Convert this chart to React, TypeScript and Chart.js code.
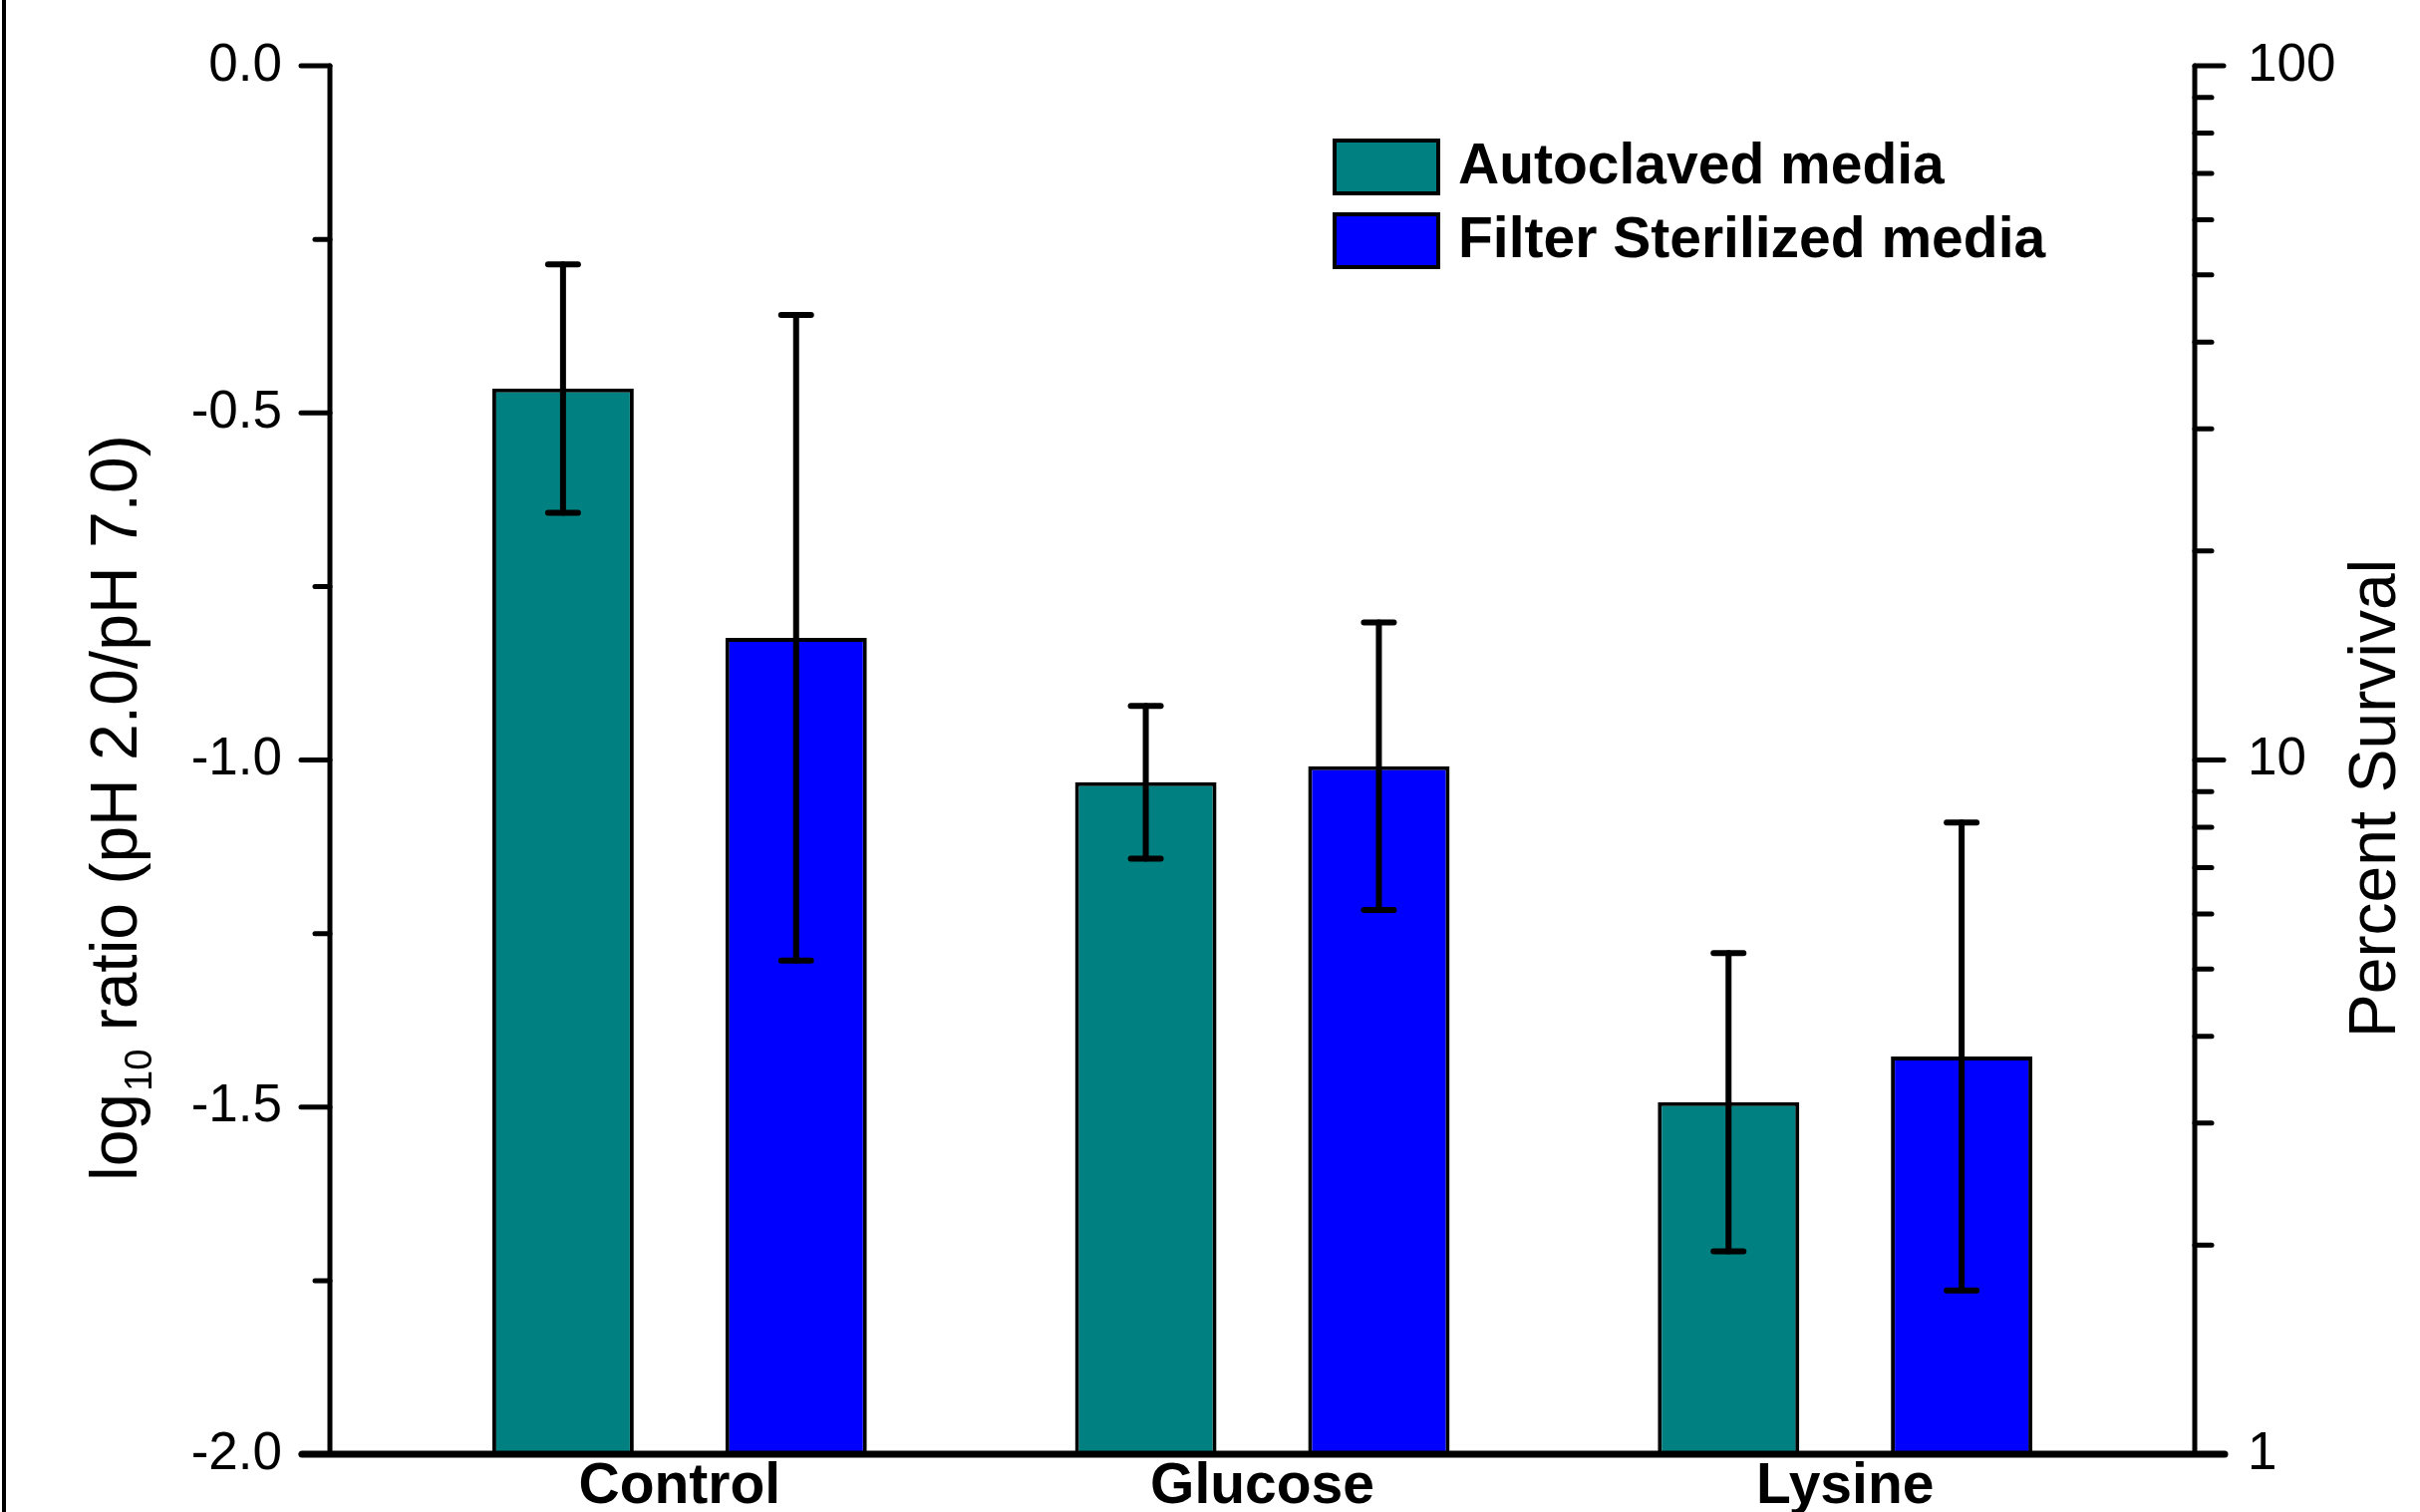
import React, { useEffect, useRef } from 'react';
import { Chart, registerables } from 'chart.js';

Chart.register(...registerables);

// ---- data ----
const CATEGORIES = ['Control', 'Glucose', 'Lysine'];
const CATEGORY_POS = [1, 2, 3];
const SERIES_NAMES = ['Autoclaved media', 'Filter Sterilized media'];
const AUTOCLAVED = [-0.465, -1.032, -1.493];
const AUTOCLAVED_ERR = [0.179, 0.11, 0.215];
const FILTERED = [-0.824, -1.009, -1.427];
const FILTERED_ERR = [0.465, 0.207, 0.337];
const SERIES_COLORS = ['#008080', '#0000FF'];
const LEFT_TICKS = [-2, -1.75, -1.5, -1.25, -1, -0.75, -0.5, -0.25, 0];
const LEFT_LABELED = [-2, -1.5, -1, -0.5, 0];
const RIGHT_TICKS = [1, 2, 3, 4, 5, 6, 7, 8, 9, 10, 20, 30, 40, 50, 60, 70, 80, 90, 100];
const RIGHT_LABELED = [1, 10, 100];
const LEFT_TITLE_MAIN = 'log';
const LEFT_TITLE_SUB = '10';
const LEFT_TITLE_REST = ' ratio (pH 2.0/pH 7.0)';
const RIGHT_TITLE = 'Percent Survival';
const X_MIN = 0.4;
const X_MAX = 3.6;
const Y_MIN = -2;
const Y_MAX = 0;

const FONT = '"Liberation Sans", Arial, Helvetica, sans-serif';
const ERRORS = [AUTOCLAVED_ERR, FILTERED_ERR];

const decorPlugin = {
  id: 'decor',
  afterDatasetsDraw(chart: any) {
    const ctx = chart.ctx as CanvasRenderingContext2D;
    const { left, right, top, bottom } = chart.chartArea;
    const ys = chart.scales.y;
    const y2 = chart.scales.y2;
    const line = (x1: number, y1: number, x2: number, y2p: number) => {
      ctx.beginPath();
      ctx.moveTo(x1, y1);
      ctx.lineTo(x2, y2p);
      ctx.stroke();
    };
    ctx.save();
    ctx.strokeStyle = '#000';
    ctx.fillStyle = '#000';
    ctx.lineCap = 'round';

    // error bars
    ctx.lineWidth = 6;
    chart.data.datasets.forEach((ds: any, di: number) => {
      const meta = chart.getDatasetMeta(di);
      meta.data.forEach((el: any, i: number) => {
        const v = ds.data[i].y;
        const e = ERRORS[di][i];
        const yt = ys.getPixelForValue(v + e);
        const yb = ys.getPixelForValue(v - e);
        const x = el.x;
        line(x, yt, x, yb);
        line(x - 15, yt, x + 15, yt);
        line(x - 15, yb, x + 15, yb);
      });
    });

    // axes lines
    ctx.lineWidth = 5;
    line(left, top, left, bottom);
    line(right, top, right, bottom);
    // left ticks
    ys.ticks.forEach((t: any) => {
      const py = ys.getPixelForValue(t.value);
      const major = LEFT_LABELED.includes(t.value);
      line(left, py, left - (major ? 29 : 15), py);
    });
    // right ticks
    y2.ticks.forEach((t: any) => {
      const py = y2.getPixelForValue(t.value);
      const major = RIGHT_LABELED.includes(t.value);
      line(right, py, right + (major ? 29 : 17), py);
    });
    // bottom axis
    ctx.lineWidth = 7;
    line(left - 28, bottom, right + 30, bottom);

    // frame line on the far left
    ctx.lineWidth = 4;
    ctx.lineCap = 'butt';
    line(4, 0, 4, chart.height);

    // left title with subscript
    ctx.save();
    ctx.translate(137, 1185);
    ctx.rotate(-Math.PI / 2);
    ctx.textAlign = 'left';
    ctx.textBaseline = 'alphabetic';
    ctx.font = `66px ${FONT}`;
    ctx.fillText(LEFT_TITLE_MAIN, 0, 0);
    let w = ctx.measureText(LEFT_TITLE_MAIN).width + 2;
    ctx.font = `38px ${FONT}`;
    ctx.fillText(LEFT_TITLE_SUB, w, 15);
    w += ctx.measureText(LEFT_TITLE_SUB).width;
    ctx.font = `66px ${FONT}`;
    ctx.fillText(LEFT_TITLE_REST, w, 0);
    ctx.restore();

    // right title
    ctx.save();
    ctx.translate(2403, 801);
    ctx.rotate(-Math.PI / 2);
    ctx.textAlign = 'center';
    ctx.textBaseline = 'alphabetic';
    ctx.font = `66px ${FONT}`;
    ctx.fillText(RIGHT_TITLE, 0, 0);
    ctx.restore();

    // legend
    const boxX = 1339;
    const boxW = 104;
    const boxH = 53;
    const rowTops = [141, 215];
    chart.data.datasets.forEach((ds: any, di: number) => {
      const ty = rowTops[di];
      ctx.fillStyle = ds.backgroundColor;
      ctx.fillRect(boxX, ty, boxW, boxH);
      ctx.lineWidth = 4;
      ctx.strokeStyle = '#000';
      ctx.strokeRect(boxX, ty, boxW, boxH);
      ctx.fillStyle = '#000';
      ctx.font = `bold 57px ${FONT}`;
      ctx.textAlign = 'left';
      ctx.textBaseline = 'middle';
      ctx.fillText(ds.label, 1463, ty + boxH / 2 + 1);
    });

    ctx.restore();
  },
};

export default function App() {
  const canvasRef = useRef<HTMLCanvasElement | null>(null);

  useEffect(() => {
    const canvas = canvasRef.current;
    if (!canvas) return;
    const datasetsValues = [AUTOCLAVED, FILTERED];
    const chart = new Chart(canvas, {
      type: 'bar',
      data: {
        datasets: datasetsValues.map((vals, di) => ({
          label: SERIES_NAMES[di],
          data: CATEGORY_POS.map((x, i) => ({ x, y: vals[i] })),
          backgroundColor: SERIES_COLORS[di],
          borderColor: '#000',
          borderWidth: 4,
          base: Y_MIN,
          categoryPercentage: 0.8,
          barPercentage: 0.607,
          xAxisID: 'x',
          yAxisID: 'y',
        })),
      } as any,
      options: {
        responsive: false,
        animation: false,
        devicePixelRatio: 1,
        layout: { padding: { top: 66, left: 0, right: 0, bottom: 0 } },
        plugins: {
          legend: { display: false },
          title: { display: false },
          tooltip: { enabled: false },
        },
        scales: {
          x: {
            type: 'linear',
            min: X_MIN,
            max: X_MAX,
            offset: false,
            afterBuildTicks: (s: any) => {
              s.ticks = CATEGORY_POS.map((v) => ({ value: v }));
            },
            afterFit: (s: any) => {
              s.height = 58;
              s.paddingLeft = 0;
              s.paddingRight = 0;
              s.paddingTop = 0;
              s.paddingBottom = 0;
            },
            grid: { display: false, drawTicks: false },
            border: { display: false },
            ticks: {
              autoSkip: false,
              maxRotation: 0,
              padding: 5,
              color: '#000',
              font: { family: FONT, size: 57, weight: 'bold', lineHeight: 1 },
              callback: (v: any) => {
                const idx = CATEGORY_POS.indexOf(Number(v));
                return idx >= 0 ? CATEGORIES[idx] : '';
              },
            },
          },
          y: {
            type: 'linear',
            position: 'left',
            min: Y_MIN,
            max: Y_MAX,
            afterBuildTicks: (s: any) => {
              s.ticks = LEFT_TICKS.map((v) => ({ value: v }));
            },
            afterFit: (s: any) => {
              s.width = 331;
              s.paddingTop = 0;
              s.paddingBottom = 0;
              s.paddingLeft = 0;
              s.paddingRight = 0;
            },
            grid: { display: false, drawTicks: false },
            border: { display: false },
            ticks: {
              autoSkip: false,
              padding: 48,
              color: '#000',
              font: { family: FONT, size: 53 },
              callback: (v: any) => (LEFT_LABELED.includes(Number(v)) ? Number(v).toFixed(1) : ''),
            },
          },
          y2: {
            type: 'logarithmic',
            position: 'right',
            min: 1,
            max: 100,
            afterBuildTicks: (s: any) => {
              s.ticks = RIGHT_TICKS.map((v) => ({ value: v }));
            },
            afterFit: (s: any) => {
              s.width = 226;
              s.paddingTop = 0;
              s.paddingBottom = 0;
              s.paddingLeft = 0;
              s.paddingRight = 0;
            },
            grid: { display: false, drawTicks: false },
            border: { display: false },
            ticks: {
              autoSkip: false,
              padding: 53,
              color: '#000',
              font: { family: FONT, size: 53 },
              callback: (v: any) => (RIGHT_LABELED.includes(Number(v)) ? String(v) : ''),
            },
          },
        },
      } as any,
      plugins: [decorPlugin],
    });
    return () => chart.destroy();
  }, []);

  return (
    <div style={{ position: 'fixed', left: 0, top: 0, width: 2428, height: 1517, background: '#fff' }}>
      <canvas ref={canvasRef} width={2428} height={1517} style={{ display: 'block' }} />
    </div>
  );
}
